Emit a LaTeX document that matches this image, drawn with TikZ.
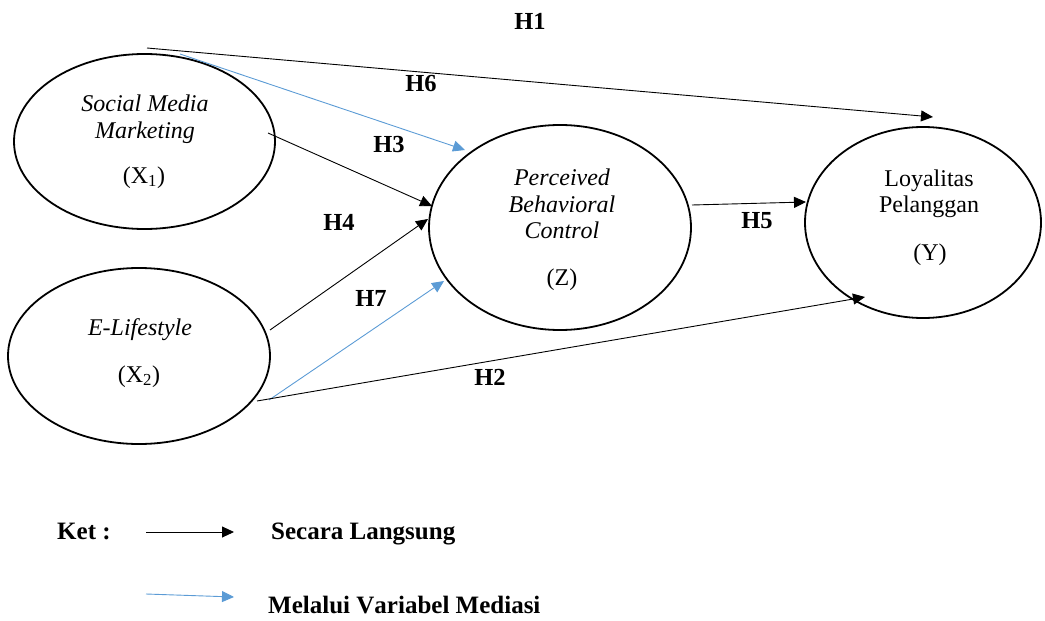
\documentclass[tikz,border=0pt]{standalone}
\usepackage{fontspec}
\setmainfont[Kerning=Off]{Liberation Serif}
\usetikzlibrary{arrows.meta,shapes.geometric}
\definecolor{medblue}{RGB}{91,155,213}
\begin{document}
\begin{tikzpicture}[x=1pt,y=-1pt,
  var/.style={draw,ellipse,line width=1.8pt,inner sep=0pt},
  txt/.style={anchor=base,inner sep=0pt,font=\fontsize{24}{28}\selectfont},
  itxt/.style={txt,font=\fontsize{24}{28}\selectfont\itshape},
  hlab/.style={anchor=base,inner sep=0pt,font=\fontsize{24.5}{28}\selectfont\bfseries},
  legtxt/.style={anchor=base west,inner sep=0pt,font=\fontsize{25}{28}\selectfont\bfseries},
  direct/.style={line width=0.9pt,-{Triangle[length=12pt,width=11pt]}},
  mediate/.style={line width=0.9pt,draw=medblue,-{Triangle[length=12pt,width=11pt]},color=medblue}]
\useasboundingbox (0,0) rectangle (1045,621);
% ellipses
\node[var,minimum width=261pt,minimum height=175pt] (x1) at (144.5,141.5) {};
\node[var,minimum width=262pt,minimum height=176pt] (x2) at (139,356) {};
\node[var,minimum width=262pt,minimum height=205pt] (z) at (560,227.5) {};
\node[var,minimum width=236pt,minimum height=191pt] (y) at (923,222.5) {};
% texts
\node[itxt] (x1a) at (145,111) {Social Media};
\node[itxt] (x1b) at (145,138) {Marketing};
\node[txt] (x1c) at (144,183) {(X\textsubscript{1})};
\node[itxt] (x2a) at (140,335) {E-Lifestyle};
\node[txt] (x2b) at (139,382) {(X\textsubscript{2})};
\node[itxt] (za) at (562,185) {Perceived};
\node[itxt] (zb) at (562,212) {Behavioral};
\node[itxt] (zc) at (562,238) {Control};
\node[txt] (zd) at (562,285) {(Z)};
\node[txt] (ya) at (929,186) {Loyalitas};
\node[txt] (yb) at (929,212) {Pelanggan};
\node[txt] (yc) at (930,260) {(Y)};
% connector end points
\coordinate (h1s) at (147,48);
\coordinate (h1e) at (933,117);
\coordinate (h6s) at (180,54);
\coordinate (h6e) at (465,150);
\coordinate (h3s) at (268,133);
\coordinate (h3e) at (432,206);
\coordinate (h4s) at (270,330);
\coordinate (h4e) at (428,219);
\coordinate (h7s) at (269,400);
\coordinate (h7e) at (444,281);
\coordinate (h2s) at (257,401);
\coordinate (h2e) at (865,297);
\coordinate (h5s) at (692,205);
\coordinate (h5e) at (806,202);
% connectors
\draw[direct] (h1s) -- (h1e);
\draw[mediate] (h6s) -- (h6e);
\draw[direct] (h3s) -- (h3e);
\draw[direct] (h4s) -- (h4e);
\draw[mediate] (h7s) -- (h7e);
\draw[direct] (h2s) -- (h2e);
\draw[direct] (h5s) -- (h5e);
% hypothesis labels
\node[hlab] (lh1) at (530,30) {H1};
\node[hlab] (lh6) at (421,91) {H6};
\node[hlab] (lh3) at (389,152) {H3};
\node[hlab] (lh4) at (339,230) {H4};
\node[hlab] (lh7) at (371,306) {H7};
\node[hlab] (lh2) at (490,385) {H2};
\node[hlab] (lh5) at (757,228) {H5};
% legend
\node[legtxt] (ket) at (57,539) {Ket :};
\coordinate (l1s) at (146,532);
\coordinate (l1e) at (234,532);
\coordinate (l2s) at (146,594);
\coordinate (l2e) at (234,597);
\draw[direct] (l1s) -- (l1e);
\draw[mediate] (l2s) -- (l2e);
\node[legtxt] (leg1) at (271,539) {Secara Langsung};
\node[legtxt] (leg2) at (268,613) {Melalui Variabel Mediasi};
\end{tikzpicture}
\end{document}
